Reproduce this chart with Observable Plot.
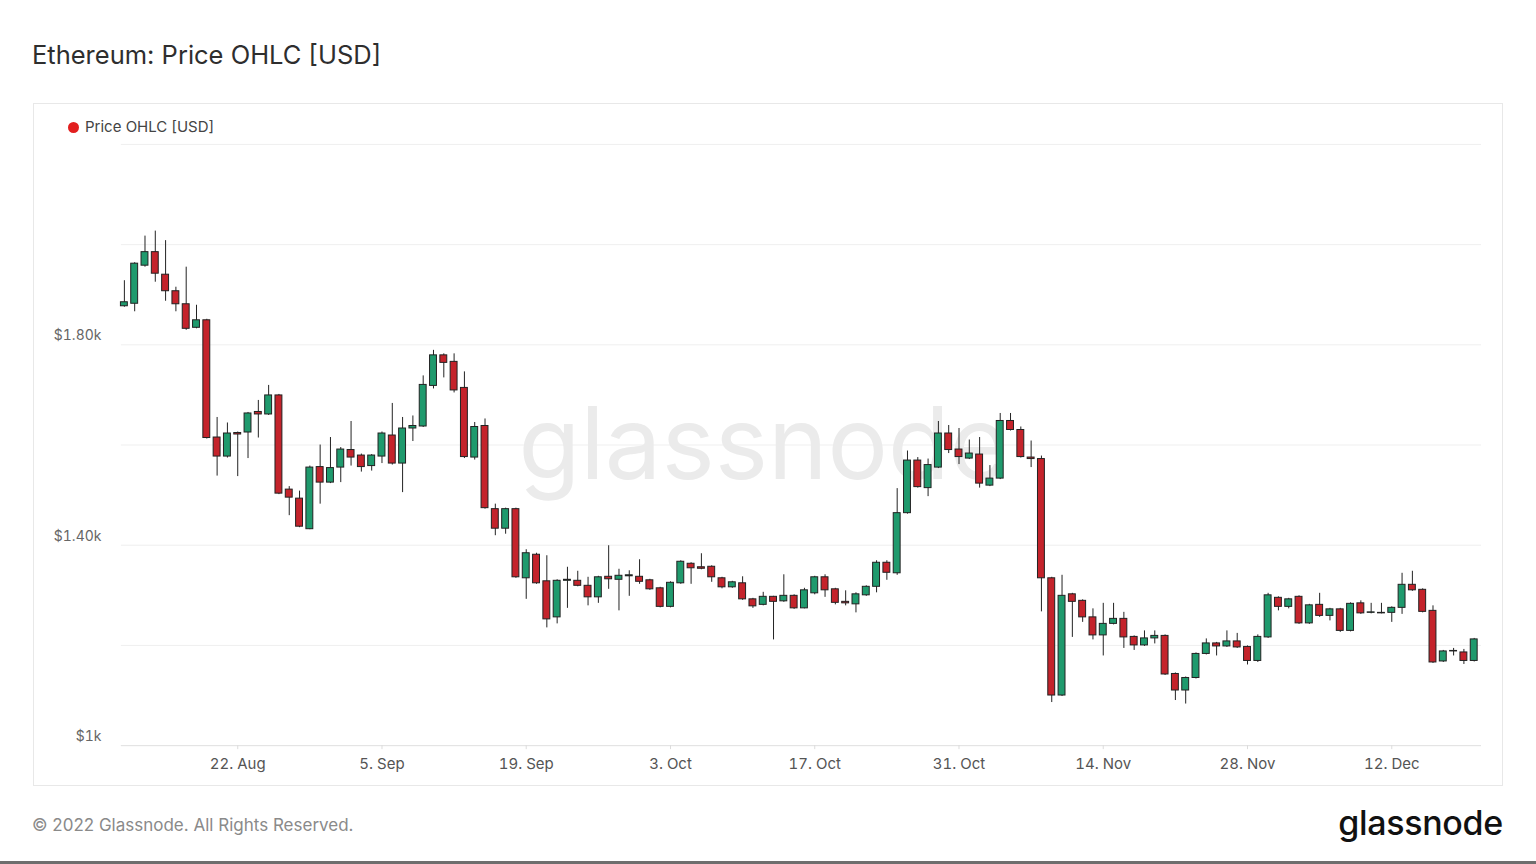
<!DOCTYPE html>
<html>
<head>
<meta charset="utf-8">
<script src="https://cdn.jsdelivr.net/npm/d3@7"></script>
<script src="https://cdn.jsdelivr.net/npm/@observablehq/plot@0.6"></script>
<style>
  html, body { margin: 0; padding: 0; background: #ffffff; }
  #page { position: relative; width: 1536px; height: 864px; overflow: hidden; font-family: Inter, "Noto Sans", sans-serif; }
  #title { position: absolute; left: 32px; top: 39px; font-size: 25.5px; font-weight: 400; color: #2e2e2e; line-height: 32px; }
  #box { position: absolute; left: 33px; top: 103px; width: 1470px; height: 683px; box-sizing: border-box; border: 1px solid #e8e8e8; background: #fff; }
  #chart { position: absolute; left: 0; top: 0; }
  #legend { position: absolute; left: 34px; top: 13px; font-size: 15px; color: #444; line-height: 20px; display: flex; align-items: center; }
  #legend .dot { width: 11px; height: 11px; border-radius: 50%; background: #e21f1f; margin-right: 6px; }
  #foot { position: absolute; left: 32px; top: 815px; font-size: 17px; color: #8a8a8a; line-height: 20px; }
  #logo { position: absolute; right: 33px; top: 801px; font-size: 34px; color: #111; line-height: 44px; font-family: Inter, sans-serif; font-weight: 500; letter-spacing: -0.3px; }
  #bottombar { position: absolute; left: 0; top: 861px; width: 1536px; height: 3px; background: #6e6e6e; }
</style>
</head>
<body>
<div id="page">
  <div id="title">Ethereum: Price OHLC [USD]</div>
  <div id="box">
    <div id="chart"></div>
    <div id="legend"><span class="dot"></span><span>Price OHLC [USD]</span></div>
  </div>
  <div id="foot">© 2022 Glassnode. All Rights Reserved.</div>
  <div id="logo">glassnode</div>
  <div id="bottombar"></div>
</div>
<script>
// Daily candles, 11 Aug 2022 .. 20 Dec 2022 (UTC)
const startDate = "2022-08-11";
const endDate = "2022-12-21";

const open = [
  1877,1882,1958,1985,1940,1907,1881,1834,1849,1615,1577,1624,1625,1666,1661,1699,1511,1493,1432,1556,1525,
  1555,1590,1579,1558,1577,1619,1563,1633,1637,1718,1779,1766,1714,1575,1638,1472,1433,1472,1334,1381,1328,1256,1329,1329,1319,1296,1337,1331,1338,1337,
  1330,1314,1277,1324,1363,1356,1357,1334,1316,1324,1292,1281,1297,1288,1299,1274,1304,1336,1312,1287,1282,1300,1317,1365,1344,1464,1569,1514,1555,1623,1591,
  1573,1581,1519,1533,1648,1630,1575,1572,1334,1100,1302,1289,1256,1220,1243,1253,1217,1200,1214,1219,1143,1110,1135,1183,1204,1198,1208,1197,1169,1216,
  1295,1277,1297,1244,1281,1259,1272,1229,1284,1265,1264,1265,1275,1321,1311,1269,1168,1188,1186,1169
];
const high = [
  1928,1964,2017,2027,2008,1915,1955,1879,1851,1655,1644,1626,1665,1689,1719,1701,1517,1508,1558,1600,1615,
  1595,1647,1582,1581,1626,1683,1655,1658,1738,1789,1782,1782,1746,1645,1652,1482,1474,1474,1391,1384,1379,1331,1356,1348,1336,1338,1399,1352,1349,1371,
  1332,1316,1327,1369,1365,1383,1359,1336,1328,1337,1294,1306,1298,1341,1301,1314,1338,1341,1314,1309,1305,1319,1369,1369,1513,1588,1575,1572,1647,1639,1633,
  1610,1615,1559,1663,1663,1636,1608,1578,1336,1340,1304,1291,1273,1284,1284,1266,1219,1229,1229,1221,1145,1137,1185,1213,1206,1229,1224,1199,1221,1304,
  1297,1294,1299,1282,1304,1274,1274,1285,1289,1284,1284,1277,1344,1348,1313,1279,1190,1194,1192,1214
];
const low = [
  1875,1866,1955,1925,1887,1866,1829,1832,1612,1538,1574,1537,1573,1614,1659,1501,1459,1435,1431,1482,1523,
  1525,1558,1546,1548,1563,1560,1505,1607,1635,1712,1734,1704,1573,1570,1472,1419,1422,1334,1292,1322,1235,1243,1274,1317,1279,1284,1312,1269,1298,1322,
  1310,1275,1275,1322,1322,1351,1326,1313,1314,1290,1274,1279,1211,1286,1272,1273,1301,1296,1281,1279,1265,1298,1305,1330,1340,1462,1514,1497,1553,1583,1561,
  1571,1514,1517,1531,1628,1574,1555,1267,1086,1098,1216,1246,1211,1179,1241,1194,1190,1198,1203,1140,1090,1083,1133,1181,1179,1196,1194,1161,1166,1214,
  1269,1273,1242,1242,1256,1249,1226,1227,1262,1263,1263,1246,1262,1308,1265,1164,1166,1179,1162,1167
];
const close = [
  1885,1962,1985,1942,1907,1881,1832,1849,1614,1577,1623,1621,1663,1661,1699,1503,1495,1437,1555,1525,1554,
  1591,1575,1556,1579,1623,1563,1633,1638,1720,1779,1764,1709,1576,1636,1474,1433,1472,1336,1384,1324,1252,1329,1331,1319,1296,1336,1332,1339,1340,1327,
  1312,1277,1325,1367,1354,1353,1336,1316,1326,1292,1278,1297,1287,1299,1274,1310,1336,1310,1285,1284,1302,1317,1365,1345,1464,1569,1516,1560,1623,1590,1576,
  1583,1523,1533,1648,1630,1576,1572,1334,1100,1299,1287,1256,1220,1243,1253,1216,1200,1214,1219,1142,1110,1135,1183,1204,1198,1208,1196,1169,1217,1300,
  1277,1292,1244,1280,1259,1272,1229,1283,1264,1266,1265,1275,1321,1310,1267,1166,1188,1189,1169,1212
];

const xTickDates = ["2022-08-22","2022-09-05","2022-09-19","2022-10-03","2022-10-17","2022-10-31","2022-11-14","2022-11-28","2022-12-12"];
const yGrid = [1000, 1200, 1400, 1600, 1800, 2000, 2200];
const yTicks = [1000, 1400, 1800];
const yTickLabels = ["$1k", "$1.40k", "$1.80k"];

const upColor = "#1f9a6d";
const downColor = "#c4232b";

const dates = d3.utcDays(new Date(startDate), new Date(endDate));
const candles = dates.map((d, i) => ({date: d, open: open[i], high: high[i], low: low[i], close: close[i]}));
const DAY = 864e5;

const x0 = new Date(+new Date(startDate) - 0.29 * DAY);
const x1 = new Date(+x0 + 132 * DAY);

const chart = Plot.plot({
  width: 1470,
  height: 683,
  marginLeft: 87,
  marginRight: 21,
  marginTop: 40,
  marginBottom: 41,
  style: {fontFamily: "Inter, 'Noto Sans', sans-serif", background: "transparent", color: "#666", overflow: "visible"},
  x: {type: "utc", domain: [x0, x1]},
  y: {domain: [1000, 2200]},
  marks: [
    Plot.ruleY(yGrid, {stroke: "#efefef", strokeWidth: 1}),
    Plot.text(["glassnode"], {frameAnchor: "middle", dx: -38, dy: 2, fontSize: 101, fill: "#ebebeb", fontFamily: "Inter, sans-serif", fontWeight: 400, letterSpacing: -3}),
    Plot.ruleY([1000], {stroke: "#e2e2e2"}),
    Plot.axisY({ticks: yTicks, tickFormat: v => yTickLabels[yTicks.indexOf(v)], tickSize: 0, tickPadding: 20, dy: -9, fontSize: 14, fill: "#666", label: null}),
    Plot.axisX({ticks: xTickDates.map(s => new Date(s)), tickFormat: d3.utcFormat("%-d. %b"), tickSize: 4, tickPadding: 9, stroke: "#dcdcdc", fill: "#555", fontSize: 15, label: null}),
    Plot.ruleX(candles, {x: "date", y1: "low", y2: "high", stroke: "#222", strokeWidth: 1}),
    Plot.rect(candles, {
      x1: d => new Date(+d.date - 0.5 * DAY),
      x2: d => new Date(+d.date + 0.5 * DAY),
      y1: "open",
      y2: "close",
      insetLeft: 1.7,
      insetRight: 1.7,
      fill: d => d.close >= d.open ? upColor : downColor,
      stroke: "#222",
      strokeWidth: 1
    })
  ]
});
document.getElementById("chart").appendChild(chart);
</script>
</body>
</html>
